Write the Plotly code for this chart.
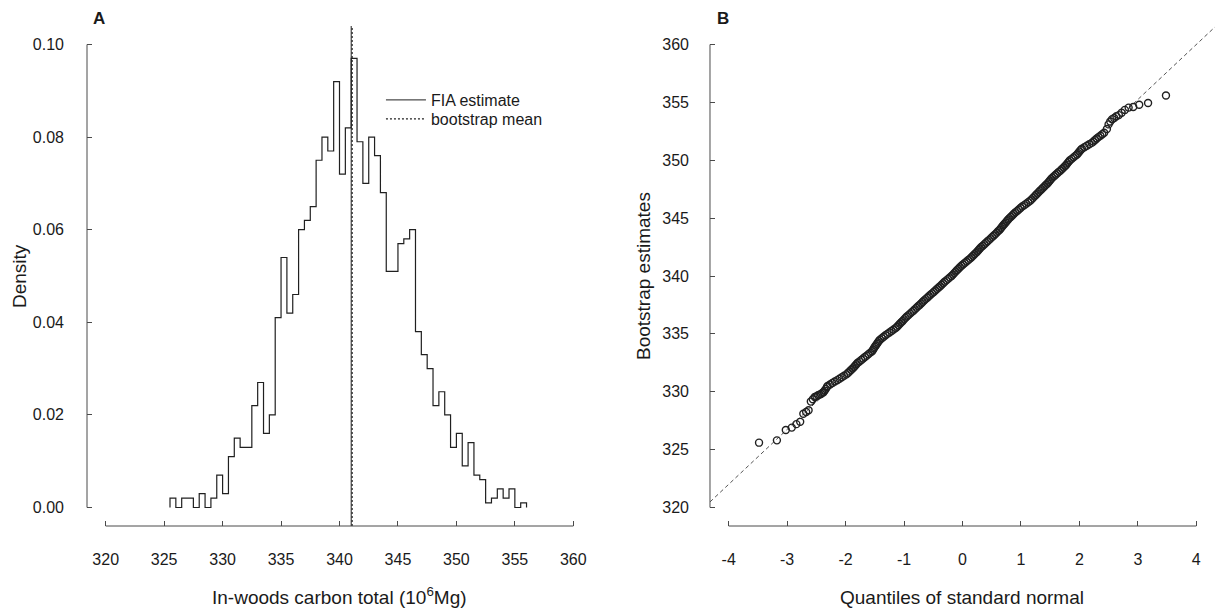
import plotly.graph_objects as go

# ---------------- Panel A: histogram of bootstrap estimates ----------------
bin_start = 325.5
bin_width = 0.5
density = [
    0.002, 0.000, 0.002, 0.002, 0.000, 0.003, 0.000, 0.002, 0.007, 0.003,
    0.011, 0.015, 0.013, 0.013, 0.022, 0.027, 0.016, 0.020, 0.041, 0.054,
    0.042, 0.046, 0.060, 0.062, 0.065, 0.075, 0.080, 0.077, 0.092, 0.072,
    0.082, 0.097, 0.079, 0.070, 0.080, 0.076, 0.068, 0.051, 0.051, 0.057,
    0.058, 0.060, 0.038, 0.033, 0.030, 0.022, 0.025, 0.020, 0.013, 0.016,
    0.009, 0.014, 0.007, 0.006, 0.001, 0.002, 0.004, 0.002, 0.004, 0.000,
    0.001,
]
fia_estimate = 341.0
bootstrap_mean = 341.08

hist_x_ticks = [320, 325, 330, 335, 340, 345, 350, 355, 360]
hist_y_ticks = [0.00, 0.02, 0.04, 0.06, 0.08, 0.10]
hist_y_ticklabels = ["0.00", "0.02", "0.04", "0.06", "0.08", "0.10"]
hist_x_range = [318.4, 361.6]
hist_y_range = [-0.004, 0.104]

# ---------------- Panel B: normal QQ plot ----------------
qq_q_lower = [-3.481, -3.175, -3.023, -2.921, -2.842, -2.777, -2.723, -2.675, -2.633,
              -2.595, -2.560, -2.528, -2.499, -2.471, -2.446, -2.421, -2.399, -2.378,
              -2.357, -2.337, -2.319]
qq_v_lower = [325.6, 325.8, 326.7, 326.9, 327.2, 327.4, 328.1, 328.25, 328.4,
              329.15, 329.35, 329.55, 329.6, 329.7, 329.75, 329.8, 329.9, 329.95,
              330.1, 330.25, 330.4]

qq_q_body = [
    -2.308, -2.267, -2.226, -2.185, -2.144, -2.105, -2.065, -2.026,
    -1.986, -1.960, -1.934, -1.907, -1.881, -1.859, -1.837, -1.815,
    -1.793, -1.762, -1.731, -1.700, -1.669, -1.638, -1.608, -1.577,
    -1.546, -1.530, -1.515, -1.499, -1.483, -1.465, -1.448, -1.430,
    -1.412, -1.380, -1.349, -1.317, -1.285, -1.250, -1.214, -1.179,
    -1.143, -1.119, -1.095, -1.071, -1.047, -1.023, -1.000, -0.976,
    -0.952, -0.924, -0.896, -0.868, -0.840, -0.814, -0.787, -0.761,
    -0.734, -0.708, -0.683, -0.657, -0.631, -0.603, -0.576, -0.548,
    -0.520, -0.492, -0.465, -0.437, -0.409, -0.383, -0.357, -0.331,
    -0.305, -0.276, -0.246, -0.217, -0.187, -0.164, -0.141, -0.118,
    -0.095, -0.069, -0.044, -0.018, 0.008, 0.038, 0.069, 0.099,
    0.129, 0.154, 0.180, 0.205, 0.230, 0.253, 0.276, 0.298,
    0.321, 0.348, 0.375, 0.402, 0.429, 0.456, 0.483, 0.509,
    0.536, 0.561, 0.587, 0.612, 0.637, 0.657, 0.677, 0.697,
    0.717, 0.739, 0.760, 0.782, 0.803, 0.829, 0.855, 0.880,
    0.906, 0.935, 0.964, 0.992, 1.021, 1.055, 1.090, 1.124,
    1.158, 1.183, 1.207, 1.232, 1.256, 1.280, 1.305, 1.329,
    1.353, 1.378, 1.404, 1.429, 1.454, 1.475, 1.496, 1.517,
    1.538, 1.566, 1.594, 1.622, 1.650, 1.677, 1.703, 1.730,
    1.756, 1.777, 1.797, 1.818, 1.838, 1.869, 1.899, 1.930,
    1.960, 1.981, 2.001, 2.022, 2.043, 2.085, 2.127, 2.169,
    2.211, 2.240, 2.269, 2.297, 2.326, 2.359, 2.392, 2.424,
]
qq_v_body = [
    330.5, 330.62, 330.75, 330.88, 331.0, 331.12, 331.25, 331.38,
    331.5, 331.62, 331.75, 331.88, 332.0, 332.12, 332.25, 332.38,
    332.5, 332.62, 332.75, 332.88, 333.0, 333.12, 333.25, 333.38,
    333.5, 333.62, 333.75, 333.88, 334.0, 334.12, 334.25, 334.38,
    334.5, 334.62, 334.75, 334.88, 335.0, 335.12, 335.25, 335.38,
    335.5, 335.62, 335.75, 335.88, 336.0, 336.12, 336.25, 336.38,
    336.5, 336.62, 336.75, 336.88, 337.0, 337.12, 337.25, 337.38,
    337.5, 337.62, 337.75, 337.88, 338.0, 338.12, 338.25, 338.38,
    338.5, 338.62, 338.75, 338.88, 339.0, 339.12, 339.25, 339.38,
    339.5, 339.62, 339.75, 339.88, 340.0, 340.12, 340.25, 340.38,
    340.5, 340.62, 340.75, 340.88, 341.0, 341.12, 341.25, 341.38,
    341.5, 341.62, 341.75, 341.88, 342.0, 342.12, 342.25, 342.38,
    342.5, 342.62, 342.75, 342.88, 343.0, 343.12, 343.25, 343.38,
    343.5, 343.62, 343.75, 343.88, 344.0, 344.12, 344.25, 344.38,
    344.5, 344.62, 344.75, 344.88, 345.0, 345.12, 345.25, 345.38,
    345.5, 345.62, 345.75, 345.88, 346.0, 346.12, 346.25, 346.38,
    346.5, 346.62, 346.75, 346.88, 347.0, 347.12, 347.25, 347.38,
    347.5, 347.62, 347.75, 347.88, 348.0, 348.12, 348.25, 348.38,
    348.5, 348.62, 348.75, 348.88, 349.0, 349.12, 349.25, 349.38,
    349.5, 349.62, 349.75, 349.88, 350.0, 350.12, 350.25, 350.38,
    350.5, 350.62, 350.75, 350.88, 351.0, 351.12, 351.25, 351.38,
    351.5, 351.62, 351.75, 351.88, 352.0, 352.12, 352.25, 352.38,
]

qq_q_upper = [2.471, 2.499, 2.528, 2.560, 2.595, 2.633, 2.675, 2.723, 2.777,
              2.842, 2.921, 3.023, 3.175, 3.481]
qq_v_upper = [352.7, 353.1, 353.35, 353.55, 353.65, 353.8, 353.9, 354.1, 354.35,
              354.55, 354.6, 354.8, 354.95, 355.6]

qqline_intercept = 341.0
qqline_slope = 4.75

qq_x_ticks = [-4, -3, -2, -1, 0, 1, 2, 3, 4]
qq_x_ticklabels = ["-4", "-3", "-2", "-1", "0", "1", "2", "3", "4"]
qq_y_ticks = [320, 325, 330, 335, 340, 345, 350, 355, 360]
qq_x_range = [-4.32, 4.32]
qq_y_range = [318.4, 361.6]

# ---------------- styling ----------------
FONT = "Arial, Liberation Sans, sans-serif"
TXT = "#1a1a1a"
AX = "#4a4a4a"
LINE = "#202020"

fig = go.Figure()

# histogram outline as a step line
edges = [bin_start + i * bin_width for i in range(len(density) + 1)]
step_x = [edges[0]] + edges
step_y = [0.0] + density + [0.0]
fig.add_trace(go.Scatter(
    x=step_x, y=step_y, mode="lines", line=dict(shape="hv", color=LINE, width=1.2),
    showlegend=False, hoverinfo="skip", xaxis="x", yaxis="y"))

fig.add_trace(go.Scatter(
    x=[fia_estimate, fia_estimate], y=hist_y_range, mode="lines",
    line=dict(color=LINE, width=1), name="FIA estimate", legend="legend",
    xaxis="x", yaxis="y"))
fig.add_trace(go.Scatter(
    x=[bootstrap_mean, bootstrap_mean], y=hist_y_range, mode="lines",
    line=dict(color=LINE, width=1.2, dash="2px,2px"), name="bootstrap mean",
    legend="legend2", xaxis="x", yaxis="y"))

# QQ plot
qq_x = qq_q_lower + qq_q_body + qq_q_upper
qq_y = qq_v_lower + qq_v_body + qq_v_upper
fig.add_trace(go.Scatter(
    x=[qq_x_range[0], qq_x_range[1]],
    y=[qqline_intercept + qqline_slope * qq_x_range[0],
       qqline_intercept + qqline_slope * qq_x_range[1]],
    mode="lines", line=dict(color="#555555", width=1, dash="4px,3px"),
    showlegend=False, hoverinfo="skip", xaxis="x2", yaxis="y2"))
fig.add_trace(go.Scatter(
    x=qq_x, y=qq_y, mode="markers",
    marker=dict(symbol="circle-open", size=7, color=LINE, line=dict(width=1.4, color=LINE)),
    showlegend=False, xaxis="x2", yaxis="y2"))

tickfont = dict(family=FONT, size=16, color=TXT)
common = dict(showgrid=False, zeroline=False, showline=False, ticks="inside",
              ticklen=5, tickwidth=1, tickcolor=AX, tickfont=tickfont)

legend_common = dict(xref="paper", yref="paper", xanchor="left", yanchor="top",
                     bgcolor="rgba(0,0,0,0)", borderwidth=0,
                     font=dict(family=FONT, size=16, color=TXT), itemwidth=40)

fig.update_layout(
    width=1225, height=613,
    margin=dict(l=87, r=10, t=26, b=87),
    paper_bgcolor="white", plot_bgcolor="white",
    font=dict(family=FONT, color=TXT),
    xaxis=dict(domain=[0, 0.4477], range=hist_x_range, tickvals=hist_x_ticks,
               anchor="y", ticklabelstandoff=22, **common),
    yaxis=dict(domain=[0, 1], range=hist_y_range, tickvals=hist_y_ticks,
               ticktext=hist_y_ticklabels, anchor="x", ticklabelstandoff=22, **common),
    xaxis2=dict(domain=[0.5523, 1], range=qq_x_range, tickvals=qq_x_ticks,
                ticktext=qq_x_ticklabels, anchor="y2", ticklabelstandoff=22, **common),
    yaxis2=dict(domain=[0, 1], range=qq_y_range, tickvals=qq_y_ticks,
                anchor="x2", ticklabelstandoff=20, **common),
    legend=dict(x=0.2606, y=0.886, **legend_common),
    legend2=dict(x=0.2606, y=0.848, **legend_common),
    showlegend=True,
)

# R-style axis lines spanning only the tick range
shape_line = dict(color=AX, width=1)
fig.add_shape(type="line", xref="x domain", yref="y", x0=0, x1=0,
              y0=hist_y_ticks[0], y1=hist_y_ticks[-1], line=shape_line)
fig.add_shape(type="line", xref="x", yref="y domain", x0=hist_x_ticks[0],
              x1=hist_x_ticks[-1], y0=0, y1=0, line=shape_line)
fig.add_shape(type="line", xref="x2 domain", yref="y2", x0=0, x1=0,
              y0=qq_y_ticks[0], y1=qq_y_ticks[-1], line=shape_line)
fig.add_shape(type="line", xref="x2", yref="y2 domain", x0=qq_x_ticks[0],
              x1=qq_x_ticks[-1], y0=0, y1=0, line=shape_line)

title_font = dict(family=FONT, size=19, color=TXT)
ann = [
    dict(text="<b>A</b>", x=0, y=1, xref="paper", yref="paper", xshift=12, yshift=8,
         xanchor="center", yanchor="middle", font=dict(family=FONT, size=17, color=TXT)),
    dict(text="<b>B</b>", x=0.5523, y=1, xref="paper", yref="paper", xshift=13, yshift=8,
         xanchor="center", yanchor="middle", font=dict(family=FONT, size=17, color=TXT)),
    dict(text="In-woods carbon total (10<sup>6</sup>Mg)", x=0.4477 / 2, y=0,
         xref="paper", yref="paper", yshift=-70, xanchor="center", yanchor="middle",
         font=title_font),
    dict(text="Quantiles of standard normal", x=(0.5523 + 1) / 2, y=0,
         xref="paper", yref="paper", yshift=-71, xanchor="center", yanchor="middle",
         font=title_font),
    dict(text="Density", x=0, y=0.5, xref="paper", yref="paper", xshift=-68,
         textangle=-90, xanchor="center", yanchor="middle", font=title_font),
    dict(text="Bootstrap estimates", x=0.5523, y=0.5, xref="paper", yref="paper",
         xshift=-67, textangle=-90, xanchor="center", yanchor="middle", font=title_font),
]
for a in ann:
    a["showarrow"] = False
    fig.add_annotation(**a)

fig.write_html("out.html")
